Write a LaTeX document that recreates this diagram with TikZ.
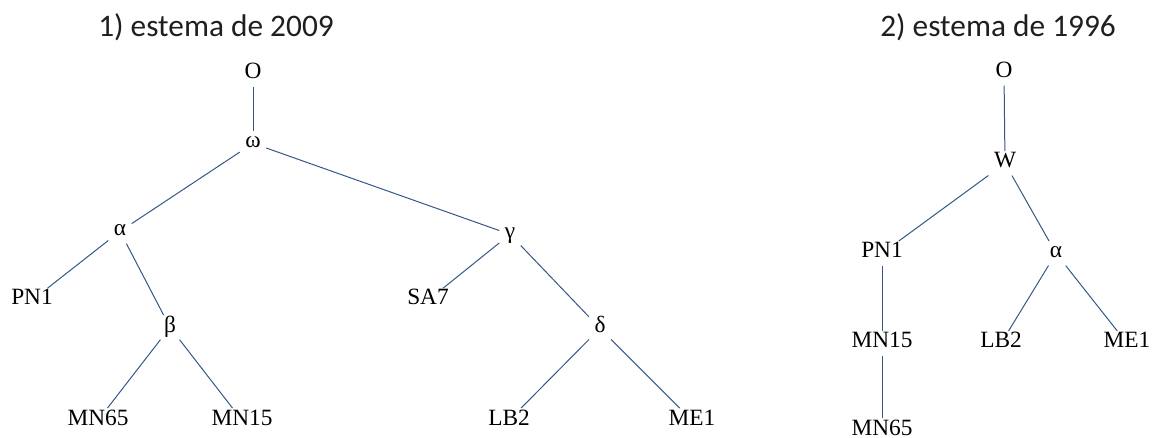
\documentclass[tikz,border=0pt]{standalone}
\usepackage{fontspec}
\setmainfont{Liberation Serif}
\newfontfamily\titlefont{Carlito}
\usepackage{tikz}
\usetikzlibrary{arrows}
\definecolor{stemline}{RGB}{52,88,133}

\begin{document}
\begin{tikzpicture}[x=0.75pt, y=-0.75pt,
  ms/.style={anchor=base, font=\fontsize{17.5}{20}\selectfont, text height=0.7em, text depth=0pt, inner xsep=4pt, inner ysep=5.5pt},
  heading/.style={anchor=base, font=\titlefont\fontsize{23.5}{28}\selectfont, text=black!88}]
  \useasboundingbox (0,0) rectangle (1153,438);
  % 1) stemma of 2009
  \node[heading] (t1) at (216,37) {1) estema de 2009};
  \node[ms] (a-O) at (253,79) {O};
  \node[ms] (a-w) at (253,148) {ω};
  \node[ms] (a-al) at (120,236) {α};
  \node[ms] (a-pn1) at (32,305) {PN1};
  \node[ms] (a-be) at (170,332) {β};
  \node[ms] (a-mn65) at (98,425) {MN65};
  \node[ms] (a-mn15) at (242,425) {MN15};
  \node[ms] (a-ga) at (510,239) {γ};
  \node[ms] (a-sa7) at (428,305) {SA7};
  \node[ms] (a-de) at (600,333) {δ};
  \node[ms] (a-lb2) at (509,425) {LB2};
  \node[ms] (a-me1) at (692,425) {ME1};
  \path[stemline, line width=0.75pt]
  (a-O) edge (a-w)
  (a-w) edge (a-al)
  edge (a-ga)
  (a-al) edge (a-pn1)
  edge (a-be)
  (a-be) edge (a-mn65)
  edge (a-mn15)
  (a-ga) edge (a-sa7)
  edge (a-de)
  (a-de) edge (a-lb2)
  edge (a-me1);
  % 2) stemma of 1996
  \node[heading] (t2) at (998,37) {2) estema de 1996};
  \node[ms] (b-O) at (1004,78) {O};
  \node[ms] (b-W) at (1005,168) {W};
  \node[ms] (b-pn1) at (882,258) {PN1};
  \node[ms] (b-al) at (1056,258) {α};
  \node[ms] (b-mn15) at (882,348) {MN15};
  \node[ms] (b-lb2) at (1001,348) {LB2};
  \node[ms] (b-me1) at (1127,348) {ME1};
  \node[ms] (b-mn65) at (882,435) {MN65};
  \path[stemline, line width=0.75pt]
  (b-O) edge (b-W)
  (b-W) edge (b-pn1)
  edge (b-al)
  (b-pn1) edge (b-mn15)
  (b-mn15) edge (b-mn65)
  (b-al) edge (b-lb2)
  edge (b-me1);
\end{tikzpicture}
\end{document}
